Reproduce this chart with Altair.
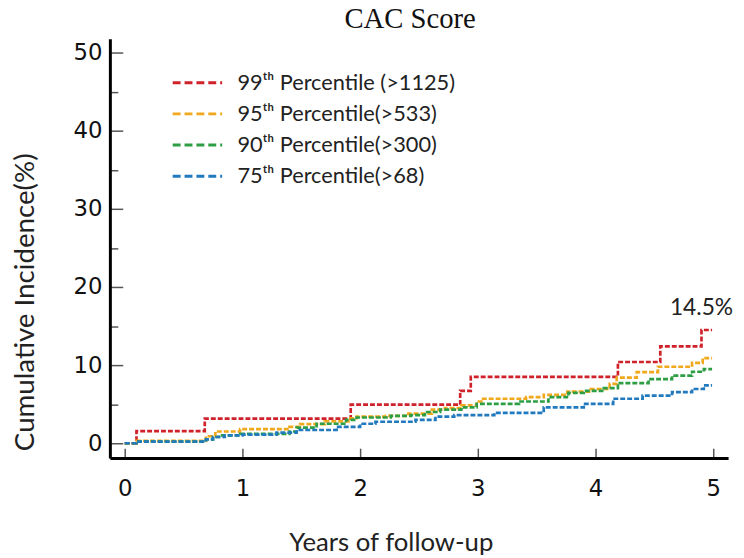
import altair as alt
import pandas as pd

series = ["99ᵗʰ Percentile (>1125)", "95ᵗʰ Percentile(>533)",
          "90ᵗʰ Percentile(>300)", "75ᵗʰ Percentile(>68)"]
colors = ["#D0222A", "#F0A81C", "#2E9E44", "#2179BE"]

red_x = [0, 0.10, 0.68, 1.92, 2.85, 2.94, 4.19, 4.55, 4.90, 4.99]
red_y = [0, 1.56, 3.16, 4.94, 6.7, 8.5, 10.4, 12.4, 14.5, 14.5]

orange_x = [0, 0.10, 0.69, 0.77, 0.98, 1.40, 1.49, 1.70, 1.90, 1.97, 2.22, 2.41, 2.61, 2.72,
            2.86, 2.99, 3.03, 3.41, 3.56, 3.76, 3.96, 4.12, 4.18, 4.35, 4.53, 4.82, 4.91, 4.99]
orange_y = [0, 0.3, 0.9, 1.5, 1.8, 2.1, 2.45, 2.8, 3.2, 3.4, 3.5, 3.8, 4.3, 4.5,
            4.85, 5.35, 5.7, 5.9, 6.2, 6.6, 6.95, 7.6, 8.4, 9.1, 9.8, 10.3, 10.9, 10.9]

green_x = [0, 0.10, 0.69, 0.75, 0.80, 0.98, 1.40, 1.46, 1.63, 1.88, 1.97, 2.26, 2.43, 2.55,
           2.68, 2.86, 2.99, 3.35, 3.60, 3.77, 3.90, 4.07, 4.19, 4.45, 4.65, 4.82, 4.92, 4.99]
green_y = [0, 0.2, 0.5, 0.8, 1.0, 1.2, 1.5, 2.0, 2.5, 3.0, 3.3, 3.5, 3.6, 4.0,
           4.3, 4.6, 5.05, 5.35, 5.9, 6.45, 6.7, 7.05, 7.7, 8.2, 8.65, 9.15, 9.5, 9.5]

blue_x = [0, 0.10, 0.69, 0.75, 0.85, 1.0, 1.29, 1.46, 1.80, 2.0, 2.13, 2.47, 2.64, 2.80,
          3.14, 3.56, 3.90, 4.15, 4.40, 4.65, 4.82, 4.92, 4.99]
blue_y = [0, 0.2, 0.5, 0.8, 1.0, 1.1, 1.35, 1.7, 2.1, 2.5, 2.75, 3.0, 3.4, 3.6,
          3.9, 4.6, 5.05, 5.7, 6.1, 6.55, 6.95, 7.4, 7.4]

x_ticks = [0, 1, 2, 3, 4, 5]
y_ticks = [0, 5, 10, 15, 20, 25, 30, 35, 40, 45, 50]

label_x = [4.9]
label_y = [14.5]
label_text = ["14.5%"]

rows = []
for name, xs, ys in zip(series, [red_x, orange_x, green_x, blue_x], [red_y, orange_y, green_y, blue_y]):
    for xv, yv in zip(xs, ys):
        rows.append({"series": name, "years": xv, "inc": yv})
df = pd.DataFrame(rows)
lab = pd.DataFrame({"years": label_x, "inc": label_y, "text": label_text})

xscale = alt.Scale(domain=[-0.126, 5.126], nice=False, zero=False)
yscale = alt.Scale(domain=[-1.9, 51.8], nice=False, zero=False)

lines = alt.Chart(df).mark_line(interpolate="step-after", strokeDash=[5, 2], strokeWidth=2.7).encode(
    x=alt.X("years:Q", scale=xscale,
            axis=alt.Axis(values=x_ticks, format="d", title="Years of follow-up", tickSize={"expr": "-10"},
                          labelPadding=30, labelFont="DejaVu Sans", labelFontSize=23,
                          titleFont="Lato", titleFontSize=26, titleFontWeight="normal",
                          titleX=284, titleY=85, titleBaseline="middle", titleColor="#222")),
    y=alt.Y("inc:Q", scale=yscale,
            axis=alt.Axis(values=y_ticks, title="Cumulative Incidence(%)",
                          labelExpr="datum.value % 10 === 0 ? datum.label : ''",
                          tickSize={"condition": {"test": "datum.value % 10 === 0", "value": -13}, "value": -8},
                          labelPadding=21, labelFont="DejaVu Sans", labelFontSize=23,
                          titleFont="Lato", titleFontSize=28, titleFontWeight="normal",
                          titleX=-77, titleY=266, titleBaseline="alphabetic", titleColor="#222")),
    color=alt.Color("series:N", scale=alt.Scale(domain=series, range=colors),
                    legend=alt.Legend(title=None, orient="none", legendX=62, legendY=31,
                                      symbolType="stroke", symbolSize=2500, symbolStrokeWidth=3,
                                      symbolDash=[8, 4], labelFont="Lato", labelFontSize=22,
                                      labelColor="#222", rowPadding=4.5, clipHeight=27, labelOffset=14,
                                      labelLimit=400)),
    order=alt.Order("years:Q"),
)

text = alt.Chart(lab).mark_text(dy=-22, font="Lato", fontSize=23, color="#222").encode(
    x=alt.X("years:Q", scale=xscale),
    y=alt.Y("inc:Q", scale=yscale),
    text="text:N",
)

chart = alt.layer(lines, text).properties(
    width=625, height=424,
    autosize="none",
    padding={"left": 103, "top": 28, "right": 8, "bottom": 100},
    title=alt.TitleParams("CAC Score", font="Liberation Serif", fontSize=29, fontWeight="normal",
                          dx=-9, dy=32, offset=14, baseline="alphabetic", frame="group", anchor="middle",
                          color="#111"),
).configure_view(stroke=None).configure_axis(
    grid=False, domainColor="#000", domainWidth=3, tickColor="#555", tickWidth=1.5,
    labelColor="#111",
)

chart.save("out.html", embed_options={"renderer": "svg", "actions": False})
